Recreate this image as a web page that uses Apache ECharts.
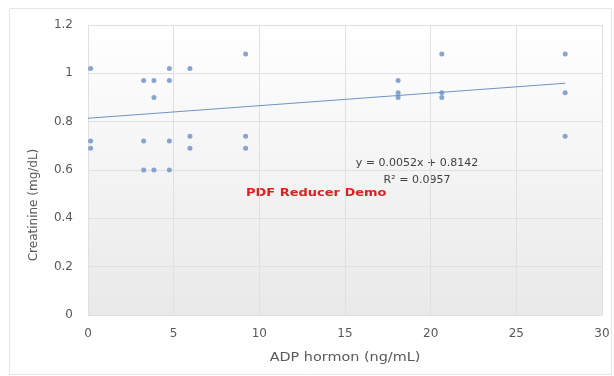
<!DOCTYPE html>
<html>
<head>
<meta charset="utf-8">
<style>
html,body{margin:0;padding:0;background:#fff;}
#chart{width:614px;height:376px;}
</style>
<script src="https://cdn.jsdelivr.net/npm/echarts@6/dist/echarts.min.js"></script>
</head>
<body>
<div id="chart"></div>
<script>
// Data
var adpValues = [0.15, 0.15, 0.15, 3.25, 3.25, 3.25, 3.85, 3.85, 3.85, 4.75, 4.75, 4.75, 4.75, 5.95, 5.95, 5.95, 9.2, 9.2, 9.2, 18.1, 18.1, 18.1, 20.65, 20.65, 20.65, 27.85, 27.85, 27.85];
var creatinineValues = [1.02, 0.72, 0.69, 0.97, 0.72, 0.60, 0.97, 0.90, 0.60, 1.02, 0.97, 0.72, 0.60, 1.02, 0.74, 0.69, 1.08, 0.74, 0.69, 0.97, 0.92, 0.90, 1.08, 0.92, 0.90, 1.08, 0.92, 0.74];
var trendSlope = 0.0052;
var trendIntercept = 0.8142;
var trendRange = [0, 27.85];
var xTicks = [0, 5, 10, 15, 20, 25, 30];
var yTicks = [0, 0.2, 0.4, 0.6, 0.8, 1, 1.2];
var equationText = 'y = 0.0052x + 0.8142';
var r2Text = 'R² = 0.0957';
var watermarkText = 'PDF Reducer Demo';
var xTitle = 'ADP hormon (ng/mL)';
var yTitle = 'Creatinine (mg/dL)';

var points = adpValues.map(function (x, i) { return [x, creatinineValues[i]]; });
var trend = trendRange.map(function (x) { return [x, trendIntercept + trendSlope * x]; });

var chart = echarts.init(document.getElementById('chart'));
var labelStyle = {color: '#595959', fontSize: 12, fontFamily: 'DejaVu Sans'};
chart.setOption({
  animation: false,
  backgroundColor: '#ffffff',
  grid: {
    left: 88, right: 12, top: 25, bottom: 61,
    show: true,
    borderWidth: 0,
    backgroundColor: new echarts.graphic.LinearGradient(0, 0, 0, 1, [
      {offset: 0, color: '#ffffff'},
      {offset: 1, color: '#e9e9e9'}
    ])
  },
  xAxis: {
    type: 'value', min: 0, max: 30, interval: 5,
    axisLine: {show: false}, axisTick: {show: false},
    splitLine: {show: true, lineStyle: {color: '#e0e0e0', width: 1}},
    axisLabel: Object.assign({margin: 13, formatter: function (v) { return xTicks.indexOf(v) >= 0 ? String(v) : ''; }}, labelStyle)
  },
  yAxis: {
    type: 'value', min: 0, max: 1.2, interval: 0.2,
    axisLine: {show: false}, axisTick: {show: false},
    splitLine: {show: true, lineStyle: {color: '#e0e0e0', width: 1}},
    axisLabel: Object.assign({margin: 15, formatter: function (v) {
      var r = Math.round(v * 10) / 10;
      return yTicks.indexOf(r) >= 0 ? String(r) : '';
    }}, labelStyle)
  },
  series: [
    {
      type: 'line', data: trend, showSymbol: false, symbol: 'none',
      lineStyle: {color: '#6f93c2', width: 1}, z: 2
    },
    {
      type: 'scatter', data: points, symbol: 'circle', symbolSize: 5,
      itemStyle: {color: '#6a90c4'}, z: 3
    }
  ],
  graphic: [
    {type: 'rect', shape: {x: 9.5, y: 8.5, width: 602, height: 366}, style: {fill: 'none', stroke: '#e6e6e6', lineWidth: 1}, silent: true, z: -1},
    {type: 'text', x: 345, y: 358, scaleX: 1.2, style: {text: xTitle, fill: '#595959', font: '12px "DejaVu Sans"', align: 'center', verticalAlign: 'middle'}},
    {type: 'text', x: 34, y: 205, rotation: Math.PI / 2, style: {text: yTitle, fill: '#595959', font: '12px "DejaVu Sans"', align: 'center', verticalAlign: 'middle'}},
    {type: 'text', x: 417, y: 163, style: {text: equationText, fill: '#404040', font: '11px "DejaVu Sans"', align: 'center', verticalAlign: 'middle'}},
    {type: 'text', x: 417, y: 180, style: {text: r2Text, fill: '#404040', font: '11px "DejaVu Sans"', align: 'center', verticalAlign: 'middle'}},
    {type: 'text', x: 246, y: 193, scaleX: 1.18, style: {text: watermarkText, fill: '#e0201c', font: 'bold 11px "DejaVu Sans"', align: 'left', verticalAlign: 'middle'}}
  ]
});
</script>
</body>
</html>
